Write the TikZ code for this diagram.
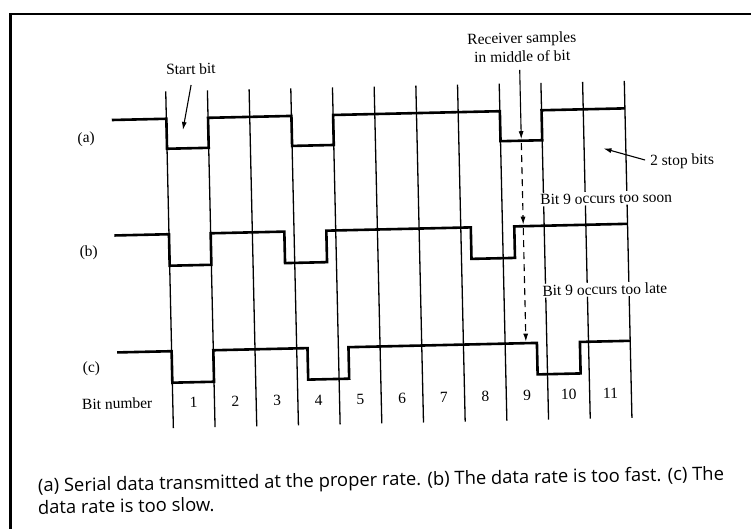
\documentclass[tikz,border=0pt]{standalone}
\usepackage{fontspec}
\setmainfont{Liberation Serif}
\newfontfamily\capfont{Open Sans}
\usetikzlibrary{arrows.meta}
\begin{document}
\begin{tikzpicture}[x=1pt,y=-1pt,
  gridline/.style={line width=1.3pt},
  wave/.style={line width=2.6pt, line join=miter},
  lbl/.style={font=\fontsize{15.5}{16}\selectfont, inner sep=0pt},
  note/.style={lbl, anchor=west, fill=white, inner sep=1.5pt},
  pointer/.style={line width=1.1pt, -{Latex[length=8pt,width=5pt]}},
  sample/.style={line width=1.1pt, dash pattern=on 7pt off 5pt, -{Latex[length=8pt,width=5pt]}},
  captext/.style={anchor=base west, rotate=1, inner sep=0pt, font=\capfont\fontsize{18.4}{22}\selectfont}]
\useasboundingbox (0,0) rectangle (751,529);
% page frame
\draw[line width=2.4pt] (10.3,529) -- (10.3,14.3) -- (751,14.3);
\begin{scope}[rotate around={1.3:(400,260)}, transform shape]
  % bit cell boundaries
  \foreach \i in {0,...,11}
    \draw[gridline] ({169.6+41.7*\i},86) -- ({169.6+41.7*\i},423);
  % bit numbers
  \node[lbl] (bitnum) at (114,397) {Bit number};
  \foreach \i in {1,...,11}
    \node[lbl] (n\i) at ({169.6+41.7*(\i-0.5)},398) {\i};
  % (a) proper rate
  \draw[wave] (115,113.5) -| (169.6,143.5) -| (211.3,113.5) -| (294.7,143.5)
    -| (336.4,113.5) -| (503.2,143.5) -| (544.9,113.5) -- (628.3,113.5);
  % (b) too fast
  \draw[wave] (115,229) -| (169.6,260.5) -| (211.3,229) -| (285,260.5)
    -| (327,229) -| (471.5,260.5) -| (515,229) -- (628.3,229);
  % (c) too slow
  \draw[wave] (115,346) -| (169.6,377.5) -| (211.3,346) -| (305.5,377.5)
    -| (346.5,346) -| (535,377.5) -| (578,346) -- (628.3,346);
  % row labels
  \node[lbl] (la) at (89,132) {(a)};
  \node[lbl] (lb) at (89,246) {(b)};
  \node[lbl] (lc) at (89,362) {(c)};
  % start bit
  \node[lbl] (sb) at (195.3,64.3) {Start bit};
  \coordinate (sbtail) at (195.1,80.3);
  \coordinate (sbhead) at (185.9,125.1);
  \draw[pointer] (sbtail) -- (sbhead);
  % sampling point
  \node[lbl] (rx1) at (526.8,42.3) {Receiver samples};
  \node[lbl] (rx2) at (526.8,59.3) {in middle of bit};
  \coordinate (rxtail) at (524,72.7);
  \coordinate (rxa) at (524,142);
  \coordinate (rxa2) at (524,146);
  \coordinate (rxb) at (524,227.5);
  \coordinate (rxb2) at (524,231);
  \coordinate (rxc) at (524,344.5);
  \draw[pointer] (rxtail) -- (rxa);
  \draw[sample] (rxa2) -- (rxb);
  \draw[sample] (rxb2) -- (rxc);
  % stop bits
  \node[lbl, anchor=west] (stop) at (652.2,167.7) {2 stop bits};
  \coordinate (stoptail) at (647.3,165.6);
  \coordinate (stophead) at (606,153.1);
  \draw[pointer] (stoptail) -- (stophead);
  \node[note] (soon) at (540,203) {Bit 9 occurs too soon};
  \node[note] (late) at (540,294) {Bit 9 occurs too late};
\end{scope}
\node[captext] (cap1) at (38,492)
  {(a) Serial data transmitted at the proper rate. (b) The data rate is too fast. (c) The};
\node[captext] (cap2) at (38,514) {data rate is too slow.};
\end{tikzpicture}
\end{document}
